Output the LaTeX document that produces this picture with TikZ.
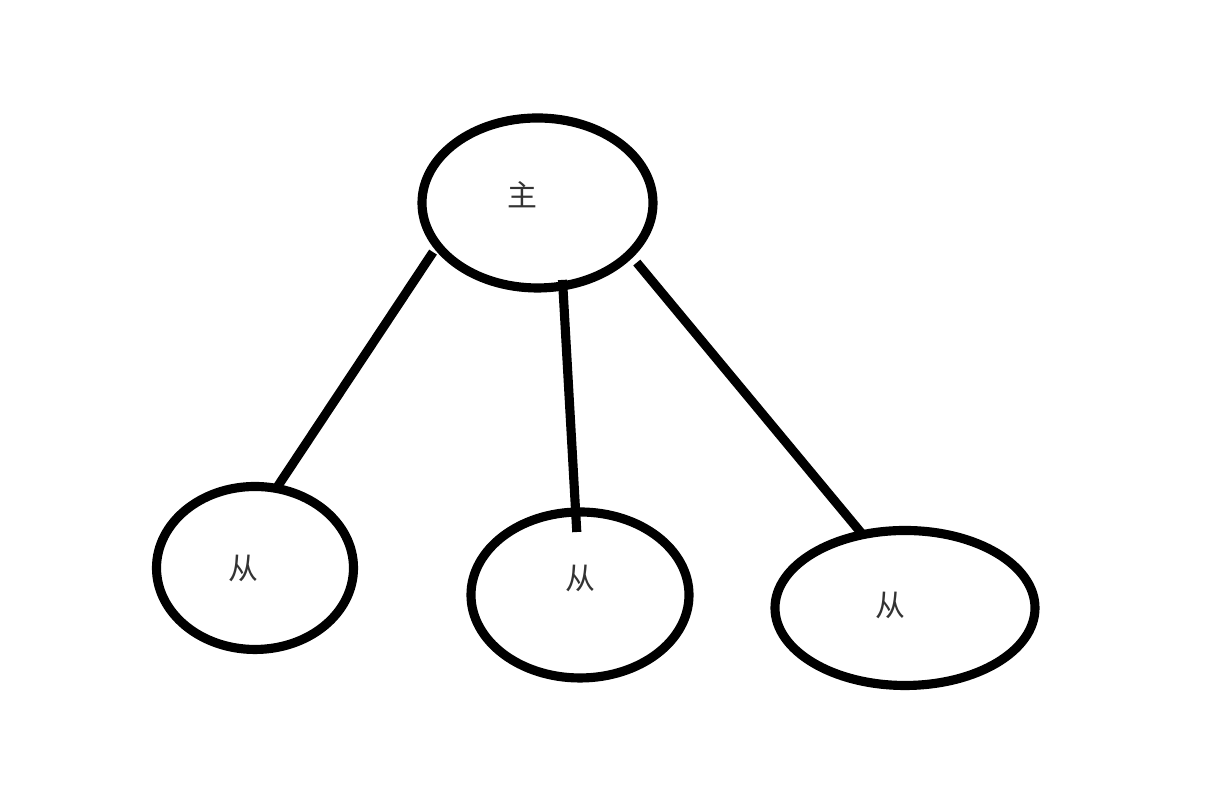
\documentclass[tikz,border=0pt]{standalone}
\usepackage{fontspec}
\newfontfamily\cjk{Noto Sans CJK SC}
\usetikzlibrary{shapes.geometric}

\begin{document}
\begin{tikzpicture}[
    bubble/.style={draw, ellipse, line width=2.6pt, inner sep=0pt, outer sep=0pt},
    tag/.style={font=\cjk\fontsize{8.5}{10}\selectfont, text=black!80},
    link/.style={line width=2.6pt},
]
    \useasboundingbox (0,0) rectangle (12.06,7.92);

    % master
    \node[bubble, minimum width=2.31cm, minimum height=1.70cm,
          label={[tag, xshift=-0.15cm, yshift=0.08cm]center:主}] (master) at (5.375,5.89) {};

    % slaves
    \node[bubble, minimum width=1.97cm, minimum height=1.63cm,
          label={[tag, xshift=-0.12cm]center:从}] (slaveA) at (2.55,2.24) {};
    \node[bubble, minimum width=2.18cm, minimum height=1.66cm,
          label={[tag, yshift=0.17cm]center:从}] (slaveB) at (5.80,1.97) {};
    \node[bubble, minimum width=2.60cm, minimum height=1.55cm,
          label={[tag, xshift=-0.15cm, yshift=0.03cm]center:从}] (slaveC) at (9.05,1.84) {};

    % links
    \draw[link, shorten <=0.08cm] (master.203) -- (slaveA.75);
    \draw[link, shorten <=-0.06cm, shorten >=-0.2cm] (master.287) -- (slaveB.93);
    \draw[link, shorten <=0.11cm] (master.331) -- (slaveC.120);
\end{tikzpicture}
\end{document}
